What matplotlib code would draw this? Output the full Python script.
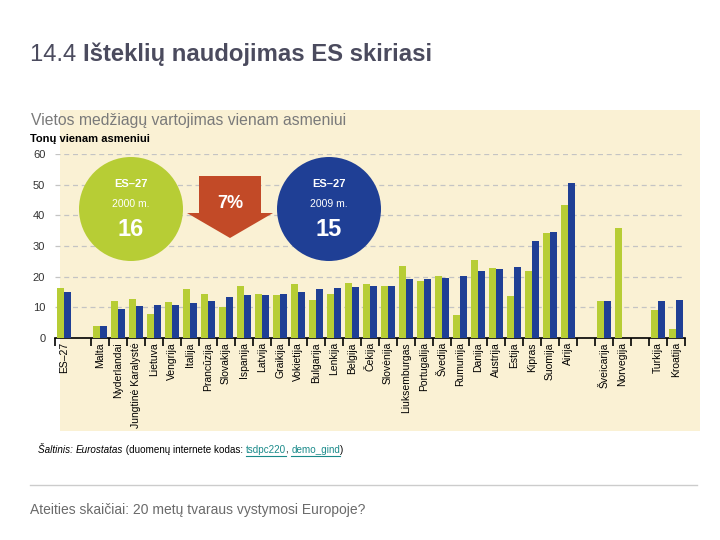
import numpy as np
import matplotlib
matplotlib.use("Agg")
import matplotlib.pyplot as plt
from matplotlib.patches import Ellipse, Polygon, Rectangle

plt.rcParams['font.family'] = ['Liberation Sans', 'DejaVu Sans']

# categories (empty string = gap between groups)
countries = ["ES–27", "", "Malta", "Nyderlandai", "Jungtinė Karalystė", "Lietuva",
             "Vengrija", "Italija", "Prancūzija", "Slovakija", "Ispanija", "Latvija",
             "Graikija", "Vokietija", "Bulgarija", "Lenkija", "Belgija", "Čekija",
             "Slovėnija", "Liuksemburgas", "Portugalija", "Švedija", "Rumunija",
             "Danija", "Austrija", "Estija", "Kipras", "Suomija", "Airija", "",
             "Šveicarija", "Norvegija", "", "Turkija", "Kroatija"]

nan = np.nan
# tonnes per person, 2000 and 2009
values_2000 = [16.2, nan, 3.8, 12.2, 12.6, 7.9, 11.8, 16.0, 14.3, 10.0, 17.1, 14.3,
               14.0, 17.6, 12.3, 14.5, 17.9, 17.6, 17.1, 23.4, 18.5, 20.1, 7.5,
               25.4, 22.9, 13.7, 21.8, 34.2, 43.5, nan, 12.0, 36.0, nan, 9.1, 2.8]
values_2009 = [14.9, nan, 3.8, 9.3, 10.3, 10.6, 10.8, 11.3, 12.2, 13.5, 14.0, 14.0,
               14.5, 15.0, 16.0, 16.4, 16.6, 16.8, 16.9, 19.2, 19.3, 19.6, 20.2,
               21.8, 22.4, 23.3, 31.6, 34.7, 50.5, nan, 12.0, nan, nan, 12.0, 12.3]

eu_2000 = "16"
eu_2009 = "15"
change = "7%"

green = "#b7cd35"
blue = "#1f3f95"
red = "#c24a27"
beige = "#faf1d4"

W, H = 720, 540
fig = plt.figure(figsize=(W / 100, H / 100), dpi=100)


def px(x, y):
    # pixel position (from top-left) to figure fraction
    return x / W, 1 - y / H


# light map-like background
fig.patches.append(Rectangle(px(60, 431), 640 / W, 321 / H, transform=fig.transFigure,
                             facecolor=beige, edgecolor="none", zorder=-2))

ax = fig.add_axes([55 / W, 1 - 338 / H, 630 / W, 184 / H])
ax.set_facecolor("none")

x = np.arange(len(countries))
ax.bar(x - 0.2, values_2000, width=0.37, color=green, zorder=3)
ax.bar(x + 0.2, values_2009, width=0.37, color=blue, zorder=3)

ax.set_xlim(-0.5, len(countries) - 0.5)
ax.set_ylim(0, 60)
ax.set_yticks(range(0, 61, 10))
ax.yaxis.grid(True, color="#c4c4c4", linestyle=(0, (4, 3)), linewidth=0.9)
ax.set_axisbelow(True)

for s in ["top", "right", "left"]:
    ax.spines[s].set_visible(False)
ax.spines["bottom"].set_linewidth(1.2)

ax.tick_params(axis="y", length=0, labelsize=8, labelcolor="#333333", pad=7)
ax.set_xticks(x)
ax.set_xticklabels(countries, rotation=90, fontsize=7.5, va="top")
ax.tick_params(axis="x", length=0, pad=3)

# small ticks at group boundaries
bounds = [b - 0.5 for b in range(len(countries) + 1) if b != 1]
ax.set_xticks(bounds, minor=True)
ax.tick_params(axis="x", which="minor", length=6, width=1.2, color="black")

# circles with EU averages
for cx, col, year, val in [(131, green, "2000 m.", eu_2000), (329, blue, "2009 m.", eu_2009)]:
    fig.patches.append(Ellipse(px(cx, 209), 104 / W, 104 / H, transform=fig.transFigure,
                               facecolor=col, edgecolor="none", zorder=5))
    fig.text(*px(cx, 184), "ES–27", color="white", fontsize=8, fontweight="bold",
             ha="center", va="center", zorder=6)
    fig.text(*px(cx, 204), year, color="white", fontsize=7.5,
             ha="center", va="center", zorder=6)
    fig.text(*px(cx, 229), val, color="white", fontsize=17, fontweight="bold",
             ha="center", va="center", zorder=6)

# arrow
arrow_pts = [(199, 176), (261, 176), (261, 213), (273, 213), (230, 238),
             (187, 213), (199, 213)]
fig.patches.append(Polygon([px(a, b) for a, b in arrow_pts], closed=True,
                           transform=fig.transFigure, facecolor=red,
                           edgecolor="none", zorder=5))
fig.text(*px(230, 204), change, color="white", fontsize=13, fontweight="bold",
         ha="center", va="center", zorder=6)

# texts
renderer = fig.canvas.get_renderer()


def text_run(x0, y0, parts, **kw):
    # write pieces side by side, return artists
    out = []
    xx = x0
    for s, props in parts:
        p = dict(kw)
        p.update(props)
        t = fig.text(*px(xx, y0), s, va="baseline", ha="left", **p)
        bb = t.get_window_extent(renderer)
        xx += bb.width
        out.append(t)
    return out


text_run(30, 61, [("14.4 ", {}), ("Išteklių naudojimas ES skiriasi", {"fontweight": "bold"})],
         fontsize=17.2, color="#4b4b5e")
fig.text(*px(31, 125), "Vietos medžiagų vartojimas vienam asmeniui", fontsize=11.3,
         color="#7a7a7a", va="baseline")
fig.text(*px(30, 142), "Tonų vienam asmeniui", fontsize=8, fontweight="bold",
         color="black", va="baseline")

link = "#1a8a8a"
src = text_run(38, 453, [("Šaltinis: ", {"style": "italic"}),
                         ("Eurostatas", {"style": "italic"}),
                         (" (duomenų internete kodas: ", {}),
                         ("tsdpc220", {"color": link}),
                         (", ", {}),
                         ("demo_gind", {"color": link}),
                         (")", {})],
               fontsize=7.1, color="black")
for t in (src[3], src[5]):
    bb = t.get_window_extent(renderer)
    fig.add_artist(plt.Line2D([bb.x0 / W, bb.x1 / W], [(bb.y0 - 1) / H, (bb.y0 - 1) / H],
                              color=link, linewidth=0.8))

fig.add_artist(plt.Line2D([30 / W, 697 / W], [1 - 485 / H, 1 - 485 / H],
                          color="#cccccc", linewidth=1))
fig.text(*px(30, 514), "Ateities skaičiai: 20 metų tvaraus vystymosi Europoje?",
         fontsize=10, color="#6a6a6a", va="baseline")

fig.savefig("out.png", dpi=100)
